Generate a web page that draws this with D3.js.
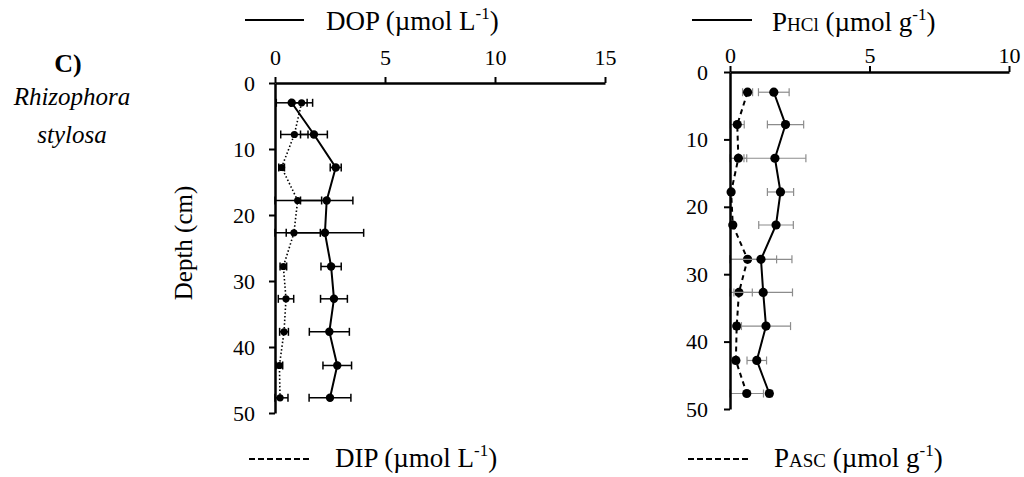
<!DOCTYPE html>
<html>
<head>
<meta charset="utf-8">
<script src="https://cdn.jsdelivr.net/npm/d3@7"></script>
<style>
  body { margin: 0; background: #fff; }
  svg { display: block; }
  text { font-family: "Liberation Serif", "Times New Roman", serif; fill: #000; }
</style>
</head>
<body>
<div id="chart"></div>
<script>
// depth of each sample (cm)
const depths = [3, 7.8, 12.8, 17.8, 22.7, 27.8, 32.7, 37.7, 42.8, 47.7];

// left panel, pore water (umol L-1)
const dop    = [0.76, 1.77, 2.76, 2.35, 2.27, 2.55, 2.68, 2.47, 2.83, 2.5];
const dopErr = [0.7, 0.61, 0.25, 1.19, 1.76, 0.46, 0.61, 0.91, 0.65, 0.95];
const dip    = [1.21, 0.88, 0.3, 1.03, 0.86, 0.38, 0.5, 0.41, 0.2, 0.23];
const dipErr = [0.5, 0.62, 0.13, 1.09, 1.2, 0.15, 0.35, 0.2, 0.15, 0.36];

// right panel, sediment (umol g-1)
const phcl    = [1.57, 1.99, 1.61, 1.81, 1.65, 1.11, 1.19, 1.29, 0.96, 1.41];
const phclErr = [0.55, 0.65, 1.11, 0.47, 0.62, 1.11, 1.05, 0.88, 0.35, 0.1];
const pasc    = [0.63, 0.26, 0.3, 0.04, 0.1, 0.63, 0.32, 0.24, 0.21, 0.6];
const pascErr = [0.18, 0.25, 0.3, 0.05, 0.08, 1.04, 0.48, 0.1, 0.1, 0.6];

const depthTicks = [0, 10, 20, 30, 40, 50];
const leftTicks = [0, 5, 10, 15];
const rightTicks = [0, 5, 10];

const width = 1024, height = 477;

const svg = d3.select("#chart")
  .append("svg")
  .attr("width", width)
  .attr("height", height);

function drawAxes(x, y, xPad, yPad) {
  const g = svg.append("g");

  const xa = g.append("g")
    .attr("transform", `translate(0, ${y(0)})`)
    .call(d3.axisTop(x).tickValues(x.domain()[1] === 15 ? leftTicks : rightTicks)
      .tickSize(6).tickSizeOuter(0).tickPadding(xPad));

  const ya = g.append("g")
    .attr("transform", `translate(${x(0)}, 0)`)
    .call(d3.axisLeft(y).tickValues(depthTicks)
      .tickSize(6).tickSizeOuter(0).tickPadding(yPad));

  [xa, ya].forEach((a) => {
    a.attr("font-size", null).attr("font-family", null);
    a.select(".domain").attr("stroke", "#000").attr("stroke-width", 2.5);
    a.selectAll(".tick line").attr("stroke", "#000").attr("stroke-width", 2);
    a.selectAll(".tick text").style("font-size", "22px");
  });
}

function drawSeries(x, y, vals, errs, s) {
  const pts = depths.map((d, i) => ({ d: d, v: vals[i], e: errs[i] }));
  const g = svg.append("g");

  // error bars
  const eb = g.append("g")
    .attr("stroke", s.errColor)
    .attr("stroke-width", s.errWidth);

  eb.selectAll("line.bar")
    .data(pts)
    .join("line")
    .attr("class", "bar")
    .attr("x1", (p) => x(Math.max(0, p.v - p.e)))
    .attr("x2", (p) => x(p.v + p.e))
    .attr("y1", (p) => y(p.d))
    .attr("y2", (p) => y(p.d));

  const ends = pts.flatMap((p) => [
    { d: p.d, v: Math.max(0, p.v - p.e) },
    { d: p.d, v: p.v + p.e },
  ]);
  eb.selectAll("line.cap")
    .data(ends)
    .join("line")
    .attr("class", "cap")
    .attr("x1", (p) => x(p.v))
    .attr("x2", (p) => x(p.v))
    .attr("y1", (p) => y(p.d) - s.cap)
    .attr("y2", (p) => y(p.d) + s.cap);

  // profile line
  const line = d3.line()
    .x((p) => x(p.v))
    .y((p) => y(p.d));

  g.append("path")
    .datum(pts)
    .attr("d", line)
    .attr("fill", "none")
    .attr("stroke", "#000")
    .attr("stroke-width", s.lineWidth)
    .attr("stroke-dasharray", s.dash);

  // markers
  g.selectAll("circle")
    .data(pts)
    .join("circle")
    .attr("cx", (p) => x(p.v))
    .attr("cy", (p) => y(p.d))
    .attr("r", s.r)
    .attr("fill", "#000");
}

// ---- left panel
const xL = d3.scaleLinear().domain([0, 15]).range([275, 605]);
const yL = d3.scaleLinear().domain([0, 50]).range([83, 413]);

drawSeries(xL, yL, dip, dipErr, { errColor: "#000", errWidth: 1.5, cap: 4, lineWidth: 1.6, dash: "1.5,2.2", r: 3.6 });
drawSeries(xL, yL, dop, dopErr, { errColor: "#000", errWidth: 1.5, cap: 4, lineWidth: 2, dash: null, r: 4.2 });
drawAxes(xL, yL, 12, 14);

// ---- right panel
const xR = d3.scaleLinear().domain([0, 10]).range([730, 1009]);
const yR = d3.scaleLinear().domain([0, 50]).range([72, 409]);

drawSeries(xR, yR, pasc, pascErr, { errColor: "#8c8c8c", errWidth: 1.2, cap: 4, lineWidth: 2, dash: "5,4", r: 4.6 });
drawSeries(xR, yR, phcl, phclErr, { errColor: "#8c8c8c", errWidth: 1.2, cap: 4, lineWidth: 2, dash: null, r: 4.6 });
drawAxes(xR, yR, 3, 16);

// ---- legends
function legend(x0, x1, ly, tx, ty, dash, parts) {
  svg.append("line")
    .attr("x1", x0).attr("x2", x1)
    .attr("y1", ly).attr("y2", ly)
    .attr("stroke", "#000")
    .attr("stroke-width", 2)
    .attr("stroke-dasharray", dash);

  const t = svg.append("text")
    .attr("x", tx).attr("y", ty)
    .style("font-size", "27px");
  parts.forEach((p) => {
    const ts = t.append("tspan").text(p.t);
    if (p.size) ts.style("font-size", p.size);
    if (p.dy) ts.attr("dy", p.dy);
  });
}

const supL = (u) => [
  { t: ` (µmol ${u}` },
  { t: "-1", size: "17px", dy: -11 },
  { t: ")", dy: 11 },
];

legend(245, 304, 20, 326, 30, null, [{ t: "DOP" }, ...supL("L")]);
legend(249, 312, 459, 335, 467, "6,3", [{ t: "DIP" }, ...supL("L")]);
legend(692, 752, 20, 772, 31, null, [{ t: "P" }, { t: "HCl", size: "19px" }, ...supL("g")]);
legend(688, 750, 459, 774, 467, "6,3", [{ t: "P" }, { t: "ASC", size: "19px" }, ...supL("g")]);

// ---- panel label and axis title
svg.append("text")
  .attr("x", 68).attr("y", 72)
  .attr("text-anchor", "middle")
  .style("font-size", "26px")
  .style("font-weight", "bold")
  .text("C)");

svg.append("text")
  .attr("x", 72).attr("y", 105)
  .attr("text-anchor", "middle")
  .style("font-size", "25px")
  .style("font-style", "italic")
  .text("Rhizophora");

svg.append("text")
  .attr("x", 72).attr("y", 143)
  .attr("text-anchor", "middle")
  .style("font-size", "25px")
  .style("font-style", "italic")
  .text("stylosa");

svg.append("text")
  .attr("transform", "translate(192, 243) rotate(-90)")
  .attr("text-anchor", "middle")
  .style("font-size", "25px")
  .text("Depth (cm)");
</script>
</body>
</html>
